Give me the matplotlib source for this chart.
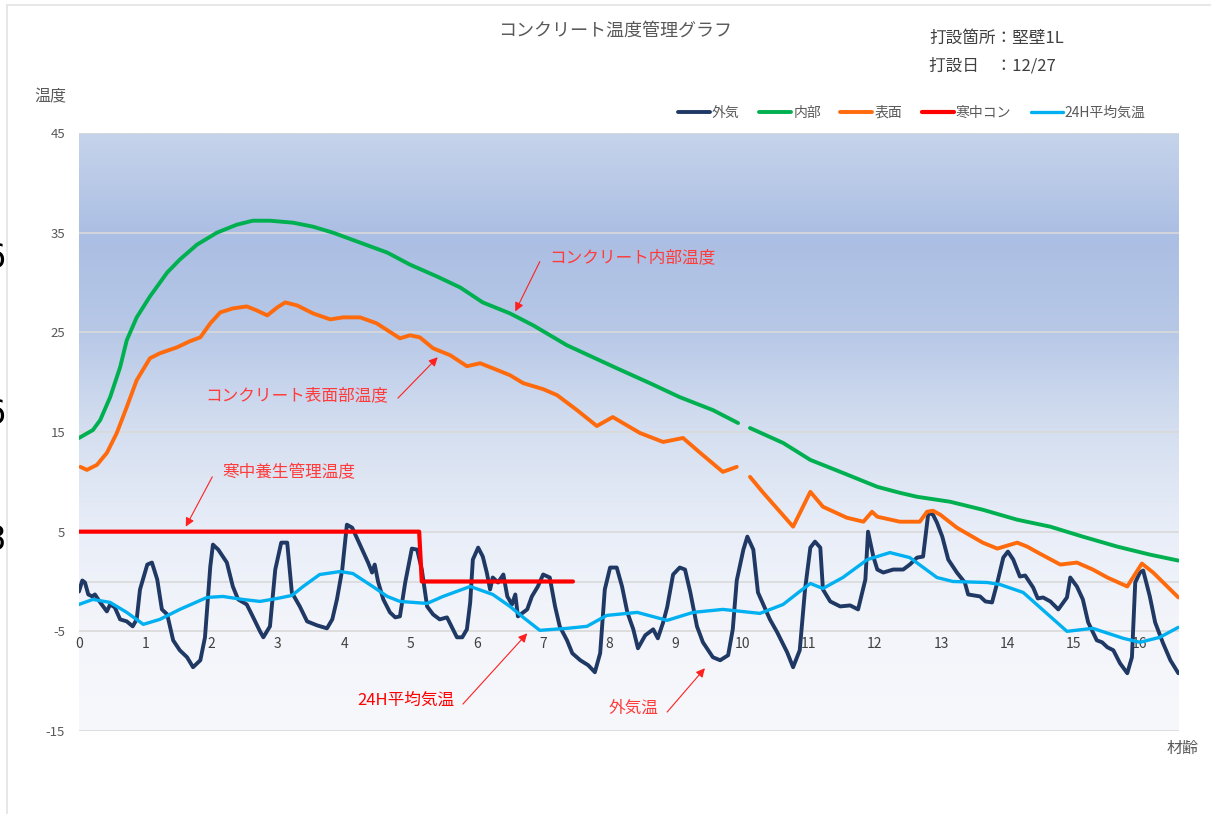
"""Concrete curing temperature chart (コンクリート温度管理グラフ)."""
import matplotlib
matplotlib.use("Agg")
import matplotlib.pyplot as plt
import numpy as np
from matplotlib.colors import LinearSegmentedColormap
from matplotlib.lines import Line2D

plt.rcParams['font.family'] = ['Noto Sans CJK JP', 'DejaVu Sans']
plt.rcParams['axes.unicode_minus'] = False
nan = float('nan')

# 外気 (outside air)
air_t = [0.00, 0.05, 0.09, 0.14, 0.20, 0.24, 0.32, 0.42, 0.47, 0.54, 0.62, 0.72, 0.81, 0.87, 0.92, 1.03, 1.10, 1.18,
         1.25, 1.33, 1.42, 1.52, 1.63, 1.72, 1.83, 1.90, 1.98, 2.02, 2.10, 2.23, 2.32, 2.40, 2.53, 2.62, 2.73, 2.78,
         2.88, 2.96, 3.05, 3.14, 3.21, 3.33, 3.44, 3.59, 3.74, 3.82, 3.89, 3.97, 4.04, 4.12, 4.27, 4.36, 4.42, 4.46,
         4.51, 4.59, 4.69, 4.77, 4.84, 4.92, 5.02, 5.10, 5.17, 5.25, 5.34, 5.44, 5.55, 5.64, 5.70, 5.78, 5.85, 5.90,
         5.94, 6.02, 6.09, 6.15, 6.20, 6.24, 6.32, 6.40, 6.46, 6.53, 6.58, 6.62, 6.70, 6.76, 6.83, 6.92, 7.00, 7.10,
         7.18, 7.25, 7.36, 7.44, 7.56, 7.68, 7.78, 7.86, 7.93, 8.01, 8.11, 8.19, 8.27, 8.36, 8.43, 8.54, 8.66, 8.73,
         8.81, 8.87, 8.96, 9.06, 9.14, 9.22, 9.32, 9.41, 9.56, 9.67, 9.79, 9.86, 9.92, 10.02, 10.08, 10.17, 10.24,
         10.42, 10.53, 10.68, 10.77, 10.87, 10.95, 11.03, 11.10, 11.18, 11.22, 11.33, 11.48, 11.63, 11.75, 11.86,
         11.90, 11.98, 12.04, 12.13, 12.28, 12.43, 12.53, 12.64, 12.73, 12.81, 12.88, 12.94, 13.02, 13.11, 13.24,
         13.36, 13.41, 13.59, 13.67, 13.77, 13.85, 13.94, 14.01, 14.09, 14.19, 14.27, 14.39, 14.46, 14.54, 14.65,
         14.77, 14.90, 14.95, 15.05, 15.14, 15.22, 15.35, 15.43, 15.51, 15.60, 15.70, 15.81, 15.88, 15.93, 16.00,
         16.05, 16.15, 16.23, 16.35, 16.46, 16.58]
air_v = [-1.0, 0.1, -0.1, -1.3, -1.5, -1.3, -2.1, -3.0, -2.3, -2.6, -3.8, -4.0, -4.5, -3.8, -0.8, 1.7, 1.9, 0.2,
         -2.8, -3.3, -5.9, -6.9, -7.6, -8.6, -7.9, -5.6, 1.5, 3.7, 3.2, 1.9, -0.5, -1.8, -2.3, -3.5, -5.0, -5.6,
         -4.5, 1.2, 3.9, 3.9, -1.1, -2.5, -4.0, -4.4, -4.7, -3.8, -1.8, 1.2, 5.7, 5.4, 3.2, 1.9, 0.9, 1.7,
         0.0, -1.8, -3.1, -3.6, -3.5, -0.1, 3.3, 3.2, 1.2, -2.5, -3.3, -3.8, -3.6, -4.8, -5.6, -5.6, -4.8, -2.1,
         2.2, 3.4, 2.5, 0.9, -0.8, 0.4, -0.1, 0.7, -1.5, -2.3, -1.3, -3.5, -3.1, -2.8, -1.5, -0.5, 0.7, 0.4,
         -2.5, -4.5, -5.9, -7.2, -7.9, -8.4, -9.1, -7.2, -0.8, 1.4, 1.4, -0.5, -3.1, -4.8, -6.7, -5.4, -4.8, -5.7,
         -4.1, -2.6, 0.7, 1.4, 1.2, -1.1, -4.5, -6.1, -7.6, -7.9, -7.4, -4.8, 0.1, 3.2, 4.5, 3.2, -1.1,
         -3.8, -5.1, -7.1, -8.6, -6.9, -0.8, 3.4, 4.0, 3.4, -0.8, -2.0, -2.5, -2.4, -2.8, 0.2,
         5.0, 2.5, 1.2, 0.9, 1.2, 1.2, 1.7, 2.4, 2.5, 6.9, 6.7, 5.9, 4.5, 2.2, 0.9,
         -0.1, -1.3, -1.5, -2.0, -2.1, -0.1, 2.4, 3.0, 2.2, 0.5, 0.6, -0.6, -1.7, -1.6, -2.0,
         -2.8, -1.6, 0.4, -0.5, -1.8, -4.1, -5.9, -6.1, -6.6, -6.9, -8.2, -9.2, -7.6, -0.1, 0.9,
         1.1, -1.5, -4.1, -6.2, -7.9, -9.2]

# 内部 (concrete core)
core_t = [0.00, 0.21, 0.32, 0.47, 0.62, 0.72, 0.87, 1.07, 1.33, 1.52, 1.78, 2.08, 2.38, 2.62, 2.88, 3.23, 3.53,
          3.83, 4.24, 4.65, 4.99, 5.40, 5.75, 6.09, 6.50, 6.85, 7.36, 8.11, 8.61, 9.06, 9.56, 9.94, 10.03,
          10.12, 10.62, 11.03, 11.52, 12.04, 12.38, 12.64, 13.14, 13.63, 14.15, 14.65, 15.14, 15.66, 16.15, 16.58]
core_v = [14.4, 15.2, 16.2, 18.5, 21.5, 24.2, 26.5, 28.6, 31.0, 32.3, 33.8, 35.0, 35.8, 36.2, 36.2, 36.0, 35.6,
          35.0, 34.0, 33.0, 31.8, 30.6, 29.5, 28.0, 26.9, 25.7, 23.7, 21.4, 19.9, 18.5, 17.2, 15.9, nan,
          15.4, 13.9, 12.2, 10.9, 9.5, 8.9, 8.5, 8.0, 7.2, 6.2, 5.5, 4.5, 3.5, 2.7, 2.1]

# 表面 (concrete surface)
surf_t = [0.02, 0.12, 0.27, 0.42, 0.57, 0.72, 0.87, 1.07, 1.22, 1.48, 1.67, 1.83, 1.98, 2.13, 2.32, 2.53, 2.68,
          2.84, 2.99, 3.11, 3.29, 3.53, 3.79, 3.98, 4.24, 4.49, 4.84, 4.99, 5.14, 5.34, 5.60, 5.85, 6.05, 6.24,
          6.50, 6.70, 7.00, 7.21, 7.51, 7.81, 8.05, 8.46, 8.81, 9.11, 9.37, 9.71, 9.92, 10.02, 10.12, 10.32,
          10.77, 11.03, 11.22, 11.58, 11.83, 11.96, 12.04, 12.38, 12.68, 12.79, 12.88, 12.99, 13.24, 13.63, 13.85,
          14.15, 14.30, 14.49, 14.80, 15.05, 15.29, 15.51, 15.81, 16.03, 16.20, 16.58]
surf_v = [11.5, 11.2, 11.7, 12.9, 14.9, 17.5, 20.2, 22.4, 22.9, 23.5, 24.1, 24.5, 25.9, 27.0, 27.4, 27.6, 27.2,
          26.7, 27.5, 28.0, 27.7, 26.9, 26.3, 26.5, 26.5, 25.9, 24.4, 24.7, 24.5, 23.4, 22.7, 21.6, 21.9, 21.4,
          20.7, 19.9, 19.3, 18.7, 17.2, 15.6, 16.5, 14.9, 14.0, 14.4, 12.9, 11.0, 11.5, nan, 10.5, 8.9,
          5.5, 9.0, 7.5, 6.4, 6.0, 7.0, 6.5, 6.0, 6.0, 7.0, 7.1, 6.7, 5.4, 3.9, 3.3,
          3.9, 3.5, 2.8, 1.7, 1.9, 1.2, 0.4, -0.5, 1.8, 0.9, -1.6]

# 寒中コン (cold-weather curing control temperature)
cold_t = [0.0, 5.13, 5.17, 7.45]
cold_v = [5, 5, 0, 0]

# 24H平均気温 (24h mean air temperature)
mean_t = [0.00, 0.21, 0.47, 0.72, 0.97, 1.22, 1.52, 1.93, 2.17, 2.47, 2.73, 2.99, 3.21, 3.38, 3.63, 3.94, 4.13,
          4.43, 4.65, 4.84, 5.25, 5.49, 5.90, 6.24, 6.50, 6.70, 6.95, 7.36, 7.66, 7.96, 8.42, 8.87, 9.26, 9.71,
          10.27, 10.62, 10.87, 11.03, 11.22, 11.52, 11.89, 12.23, 12.53, 12.94, 13.18, 13.70, 13.89, 14.24,
          14.90, 15.29, 15.75, 16.00, 16.30, 16.58]
mean_v = [-2.3, -1.8, -2.1, -3.1, -4.3, -3.8, -2.8, -1.6, -1.5, -1.8, -2.0, -1.7, -1.4, -0.5, 0.7, 1.0, 0.8,
          -0.5, -1.5, -2.0, -2.2, -1.5, -0.5, -1.3, -2.5, -3.6, -4.9, -4.7, -4.5, -3.4, -3.1, -3.9, -3.1, -2.8,
          -3.2, -2.3, -1.0, -0.2, -0.7, 0.4, 2.2, 2.9, 2.4, 0.4, 0.0, -0.1, -0.3, -1.1,
          -5.0, -4.7, -5.7, -6.1, -5.6, -4.6]

day_ticks = list(range(0, 17))
temp_ticks = [-15, -5, 5, 15, 25, 35, 45]

fig = plt.figure(figsize=(12.11, 8.14), dpi=100)
ax = fig.add_axes([79 / 1211, 83 / 814, 1100 / 1211, 598 / 814])
x_max = 16.59

# background gradient of the plot area
grad = LinearSegmentedColormap.from_list("bg", [
    (0.00, "#f6f8fc"), (0.17, "#f3f5fa"), (0.33, "#e9eef8"), (0.50, "#d5dff0"),
    (0.67, "#b7c8e7"), (0.83, "#abbee3"), (1.00, "#c6d4eb")])
ax.imshow(np.linspace(0, 1, 256).reshape(-1, 1), cmap=grad, aspect="auto", origin="lower",
          extent=[0, x_max, -15, 45], zorder=0)

for y in temp_ticks + [0]:
    ax.axhline(y, color="#d9d9d9", lw=1.2, zorder=1)

kw = dict(solid_capstyle="round", solid_joinstyle="round", zorder=3)
ax.plot(air_t, air_v, color="#1f3864", lw=2.8, label="外気", **kw)
ax.plot(core_t, core_v, color="#00b050", lw=2.8, label="内部", **kw)
ax.plot(surf_t, surf_v, color="#ff6a0d", lw=2.8, label="表面", **kw)
ax.plot(cold_t, cold_v, color="#ff0000", lw=3.0, label="寒中コン", **kw)
ax.plot(mean_t, mean_v, color="#00b0f0", lw=2.4, label="24H平均気温", **kw)

ax.set_xlim(0, x_max)
ax.set_ylim(-15, 45)
ax.set_yticks(temp_ticks)
ax.set_xticks(day_ticks)
for s in ["top", "right", "left"]:
    ax.spines[s].set_visible(False)
ax.spines["bottom"].set_position(("data", -5))
ax.spines["bottom"].set_color("none")
ax.tick_params(axis="x", length=0, pad=4, labelsize=10, labelcolor="#404040")
ax.tick_params(axis="y", length=0, pad=10, labelsize=9.5, labelcolor="#595959")

# annotations
red = "#ff3b3b"
arrow = dict(arrowstyle="-|>", color="#ff2020", lw=0.8, mutation_scale=13, shrinkA=0, shrinkB=0)
ax.annotate("", xy=(6.58, 27.1), xytext=(6.95, 32.1), arrowprops=arrow, zorder=4)
ax.text(7.09, 32.5, "コンクリート内部温度", color=red, fontsize=12, va="center", ha="left")
ax.annotate("", xy=(5.41, 22.5), xytext=(4.81, 18.4), arrowprops=arrow, zorder=4)
ax.text(1.90, 18.6, "コンクリート表面部温度", color=red, fontsize=12, va="center", ha="left")
ax.annotate("", xy=(1.61, 5.5), xytext=(2.01, 10.5), arrowprops=arrow, zorder=4)
ax.text(2.17, 10.9, "寒中養生管理温度", color=red, fontsize=12, va="center", ha="left")
ax.annotate("", xy=(6.76, -5.2), xytext=(5.79, -12.3), arrowprops=arrow, zorder=4)
ax.text(5.66, -11.9, "24H平均気温", color="#ff0000", fontsize=12, va="center", ha="right")
ax.annotate("", xy=(9.44, -8.7), xytext=(8.87, -13.1), arrowprops=arrow, zorder=4)
ax.text(7.98, -12.7, "外気温", color=red, fontsize=12, va="center", ha="left")

# texts around the plot
fig.text(615 / 1211, 1 - 31 / 814, "コンクリート温度管理グラフ", ha="center", va="center", fontsize=13, color="#595959")
fig.text(929 / 1211, 1 - 38 / 814, "打設箇所：堅壁1L", ha="left", va="center", fontsize=12, color="#404040")
fig.text(929 / 1211, 1 - 66 / 814, "打設日　：12/27", ha="left", va="center", fontsize=12, color="#404040")
fig.text(34 / 1211, 1 - 97 / 814, "温度", ha="left", va="center", fontsize=11.5, color="#595959")
fig.text(1167 / 1211, 1 - 748 / 814, "材齢", ha="left", va="center", fontsize=11.5, color="#595959")

fig.legend(loc="center right", bbox_to_anchor=(1158 / 1211, 1 - 113 / 814), ncol=5, frameon=False,
           fontsize=10, handlelength=2.3, handletextpad=0.15, columnspacing=1.4, labelcolor="#595959")

# clipped cell contents at the left edge and the sheet frame
for ypix, s in [(258, "6"), (415, "6"), (540, "8")]:
    fig.text(6 / 1211, 1 - ypix / 814, s, ha="right", va="center", fontsize=24, color="black",
             family="DejaVu Sans")
fig.add_artist(Line2D([7 / 1211, 7 / 1211], [0, 1 - 5 / 814], color="#e3e3e3", lw=1.2))
fig.add_artist(Line2D([7 / 1211, 1], [1 - 5 / 814, 1 - 5 / 814], color="#e3e3e3", lw=1.2))

fig.savefig("out.png", dpi=100)
